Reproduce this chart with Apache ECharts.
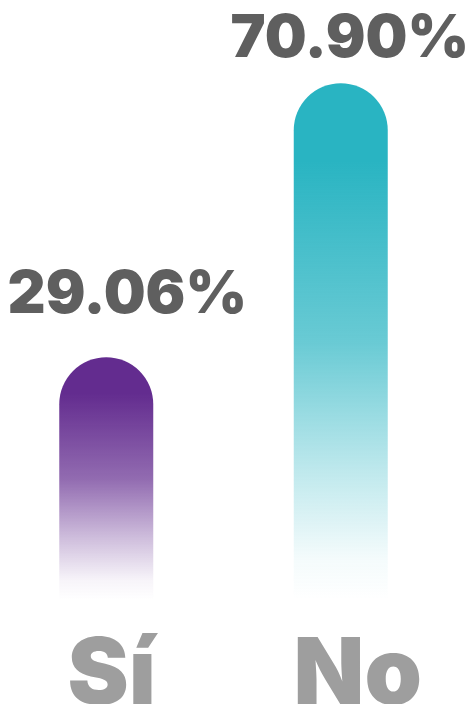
<!DOCTYPE html>
<html>
<head>
<meta charset="utf-8">
<script src="https://cdn.jsdelivr.net/npm/echarts@6/dist/echarts.min.js"></script>
<style>
  html, body { margin: 0; padding: 0; background: #fff; }
  #main { width: 473px; height: 704px; }
</style>
</head>
<body>
<div id="main"></div>
<script>
// datos
var categories = ['Sí', 'No'];
var values = [29.06, 70.90];
var barColors = ['99,44,143', '41,180,194'];
// desplazamiento de las etiquetas de porcentaje [dx, dy]
var labelShift = [[21, -32], [9, -14]];

var chartDom = document.getElementById('main');
var myChart = echarts.init(chartDom);

function renderBar(params, api) {
  var idx = params.dataIndex;
  var top = api.coord([idx, api.value(1)]);
  var cs = params.coordSys;
  var bottom = cs.y + cs.height;
  var w = 94;
  var rgb = barColors[idx];
  return {
    type: 'group',
    children: [{
      type: 'rect',
      shape: { x: top[0] - w / 2, y: top[1], width: w, height: bottom - top[1], r: [w / 2, w / 2, 0, 0] },
      style: {
        fill: new echarts.graphic.LinearGradient(0, 0, 0, 1, [
          { offset: 0, color: 'rgba(' + rgb + ',1)' },
          { offset: 0.15, color: 'rgba(' + rgb + ',1)' },
          { offset: 0.5, color: 'rgba(' + rgb + ',0.7)' },
          { offset: 0.75, color: 'rgba(' + rgb + ',0.3)' },
          { offset: 0.92, color: 'rgba(' + rgb + ',0.05)' },
          { offset: 1, color: 'rgba(' + rgb + ',0)' }
        ])
      }
    }, {
      type: 'text',
      x: top[0] + labelShift[idx][0],
      y: top[1] + labelShift[idx][1],
      style: {
        text: api.value(1).toFixed(2) + '%',
        fill: '#5f5f5f',
        font: '900 59px Inter',
        align: 'center',
        verticalAlign: 'bottom'
      }
    }]
  };
}

var option = {
  animation: false,
  grid: { left: -11, width: 469, top: 76, height: 524, outerBoundsMode: 'none' },
  xAxis: {
    type: 'category',
    data: categories,
    axisLine: { show: false },
    axisTick: { show: false },
    axisLabel: {
      margin: 30,
      formatter: function (v) { return v === 'Sí' ? '{a|' + v + '}' : '{b|' + v + '}'; },
      rich: {
        a: { color: '#9e9e9e', fontFamily: 'Inter', fontWeight: 900, fontSize: 92, padding: [0, 0, 0, 11] },
        b: { color: '#9e9e9e', fontFamily: 'Inter', fontWeight: 900, fontSize: 92, padding: [0, 0, 0, 34] }
      }
    }
  },
  yAxis: {
    type: 'value',
    min: -8,
    max: 72,
    show: false
  },
  series: [{
    type: 'custom',
    renderItem: renderBar,
    data: values.map(function (v, i) { return [i, v]; })
  }]
};
myChart.setOption(option);
</script>
</body>
</html>
